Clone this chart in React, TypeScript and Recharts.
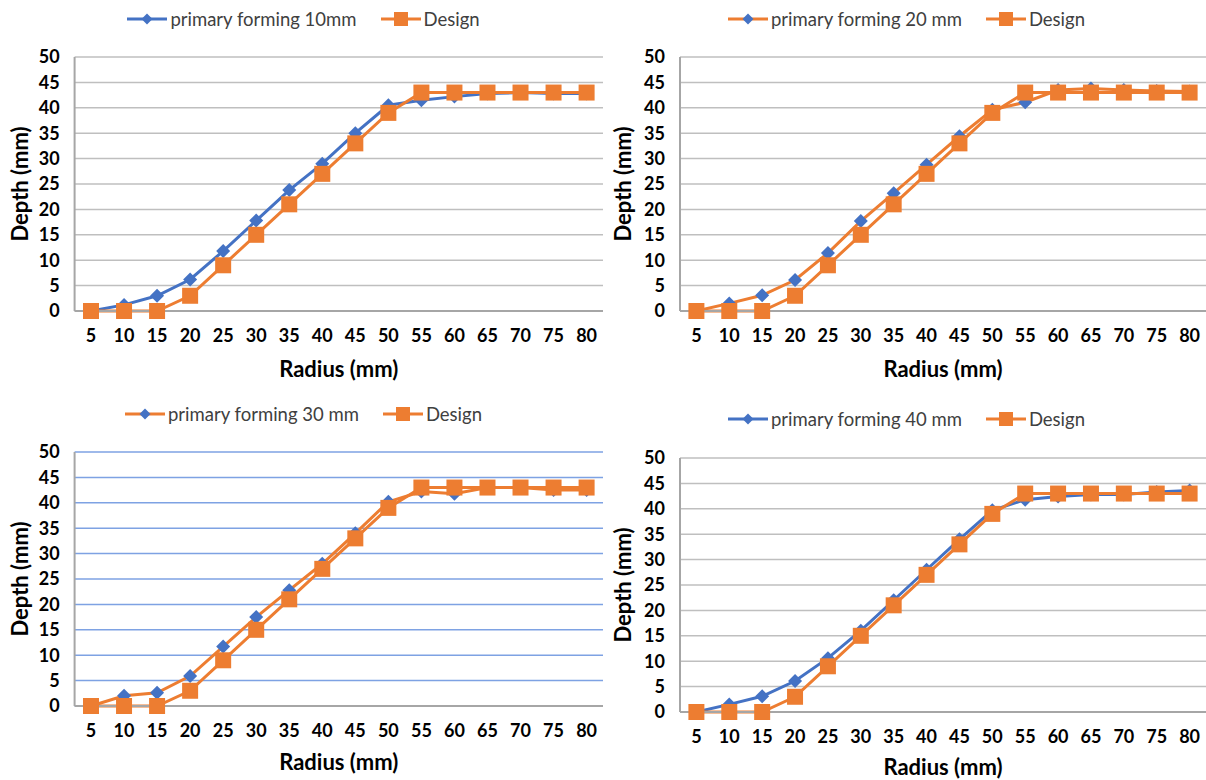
import { LineChart, Line, XAxis, YAxis, CartesianGrid, Legend } from 'recharts';

const radius = ['5', '10', '15', '20', '25', '30', '35', '40', '45', '50', '55', '60', '65', '70', '75', '80'];
const design = [0, 0, 0, 3, 9, 15, 21, 27, 33, 39, 43, 43, 43, 43, 43, 43];
const forming10 = [0, 1.2, 3, 6.2, 11.8, 17.8, 23.8, 29, 35, 40.5, 41.5, 42.2, 42.8, 43, 42.8, 42.8];
const forming20 = [0, 1.5, 3.1, 6.1, 11.4, 17.7, 23.2, 28.8, 34.4, 39.6, 41.1, 43.5, 43.8, 43.5, 43.3, 43.2];
const forming30 = [0, 2, 2.6, 5.9, 11.7, 17.5, 22.8, 28, 34, 40.2, 42.2, 41.8, 43, 43, 42.5, 42.5];
const forming40 = [0, 1.5, 3.1, 6.1, 10.6, 16, 22, 28, 34, 39.7, 41.8, 42.4, 42.8, 42.8, 43.3, 43.6];
const depthTicks = [0, 5, 10, 15, 20, 25, 30, 35, 40, 45, 50];

const BLUE = '#4472C4';
const ORANGE = '#ED7D31';
const FONT = 'Lato, "Open Sans", sans-serif';

const diamondDot = (fill: string, r = 7) => (p: any) => {
  const { cx, cy, index } = p;
  if (cx == null || cy == null) return <g key={`dd-${index}`} />;
  return (
    <polygon
      key={`dd-${index}`}
      points={`${cx},${cy - r} ${cx + r},${cy} ${cx},${cy + r} ${cx - r},${cy}`}
      fill={fill}
    />
  );
};

const squareDot = (fill: string, s = 16) => (p: any) => {
  const { cx, cy, index } = p;
  if (cx == null || cy == null) return <g key={`sd-${index}`} />;
  return <rect key={`sd-${index}`} x={cx - s / 2} y={cy - s / 2} width={s} height={s} fill={fill} />;
};

const LegendIcon = ({ line, marker, shape }: { line: string; marker: string; shape: 'diamond' | 'square' }) => (
  <svg width={40} height={16} style={{ display: 'block' }}>
    <line x1={0} y1={8} x2={40} y2={8} stroke={line} strokeWidth={3} />
    {shape === 'diamond' ? (
      <polygon points="20,2.5 25.5,8 20,13.5 14.5,8" fill={marker} />
    ) : (
      <rect x={13} y={1} width={14} height={14} fill={marker} />
    )}
  </svg>
);

interface PanelProps {
  left: number;
  top: number;
  name: string;
  values: number[];
  lineColor: string;
  gridColor: string;
  plotLeft: number;
  plotTop: number;
  plotBottom: number;
  legendTop: number;
  radiusOffset: number;
}

const Panel = ({ left, top, name, values, lineColor, gridColor, plotLeft, plotTop, plotBottom, legendTop, radiusOffset }: PanelProps) => {
  const data = radius.map((r, i) => ({ radius: r, formed: values[i], design: design[i] }));
  const W = 603;
  const H = 390;
  const tick = { fill: '#000', fontSize: 18, fontWeight: 700, fontFamily: FONT };

  return (
    <div style={{ position: 'absolute', left, top }}>
      <LineChart width={W} height={H} data={data} margin={{ top: plotTop, right: 0, left: 0, bottom: 0 }}>
        <CartesianGrid vertical={false} stroke={gridColor} strokeWidth={1.5} />
        <XAxis
          dataKey="radius"
          height={H - plotBottom}
          padding={{ left: 16.4, right: 16.4 }}
          tickLine={false}
          tickSize={0}
          tickMargin={18}
          axisLine={{ stroke: '#A6A6A6', strokeWidth: 2 }}
          tick={tick}
          interval={0}
          label={{
            value: 'Radius (mm)',
            position: 'insideBottom',
            offset: radiusOffset,
            style: { fill: '#000', fontSize: 22, fontWeight: 700, fontFamily: FONT },
          }}
        />
        <YAxis
          width={plotLeft}
          domain={[0, 50]}
          ticks={depthTicks}
          interval={0}
          tickLine={false}
          tickSize={0}
          tickMargin={15}
          axisLine={{ stroke: '#A6A6A6', strokeWidth: 2 }}
          tick={tick}
          label={{
            value: 'Depth (mm)',
            angle: -90,
            position: 'insideLeft',
            offset: 20,
            style: { fill: '#000', fontSize: 22, fontWeight: 700, fontFamily: FONT, textAnchor: 'middle' },
          }}
        />
        <Legend
          verticalAlign="middle"
          align="center"
          wrapperStyle={{ top: legendTop, left: 0, width: W }}
          content={() => (
            <div
              style={{
                display: 'flex',
                justifyContent: 'center',
                alignItems: 'center',
                paddingLeft: 4,
                fontFamily: FONT,
                fontSize: 18.5,
                color: '#404040',
              }}
            >
              <LegendIcon line={lineColor} marker={BLUE} shape="diamond" />
              <span style={{ marginLeft: 3 }}>{name}</span>
              <span style={{ width: 24 }} />
              <LegendIcon line={ORANGE} marker={ORANGE} shape="square" />
              <span style={{ marginLeft: 3 }}>Design</span>
            </div>
          )}
        />
        <Line
          dataKey="formed"
          name={name}
          stroke={lineColor}
          strokeWidth={3}
          dot={diamondDot(BLUE)}
          activeDot={false}
          isAnimationActive={false}
        />
        <Line
          dataKey="design"
          name="Design"
          stroke={ORANGE}
          strokeWidth={3}
          dot={squareDot(ORANGE)}
          activeDot={false}
          isAnimationActive={false}
        />
      </LineChart>
    </div>
  );
};

export default function App() {
  return (
    <div style={{ position: 'absolute', left: 0, top: 0, width: 1206, height: 780, background: '#fff', overflow: 'hidden' }}>
      <Panel left={0} top={0} name="primary forming 10mm" values={forming10} lineColor={BLUE} gridColor="#BFBFBF"
        plotLeft={74.6} plotTop={57} plotBottom={311} legendTop={8} radiusOffset={13} />
      <Panel left={603} top={0} name="primary forming 20 mm" values={forming20} lineColor={ORANGE} gridColor="#BFBFBF"
        plotLeft={77} plotTop={57} plotBottom={311} legendTop={8} radiusOffset={13} />
      <Panel left={0} top={390} name="primary forming 30 mm" values={forming30} lineColor={ORANGE} gridColor="#7EA2E3"
        plotLeft={74.6} plotTop={62} plotBottom={316} legendTop={13} radiusOffset={10} />
      <Panel left={603} top={390} name="primary forming 40 mm" values={forming40} lineColor={BLUE} gridColor="#BFBFBF"
        plotLeft={77} plotTop={68} plotBottom={322} legendTop={18} radiusOffset={5} />
    </div>
  );
}
